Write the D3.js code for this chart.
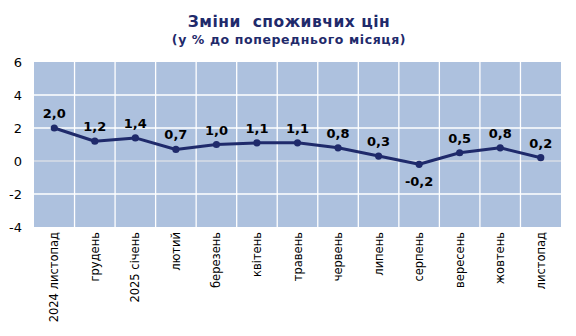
<!DOCTYPE html>
<html>
<head>
<meta charset="utf-8">
<script src="https://cdn.jsdelivr.net/npm/d3@7"></script>
<style>
  html, body { margin: 0; padding: 0; background: #fff; }
  svg { display: block; }
</style>
</head>
<body>
<svg id="chart" width="576" height="336"></svg>
<script>
// Monthly consumer price changes, % vs previous month
const months = ["2024 листопад", "грудень", "2025 січень", "лютий", "березень", "квітень",
  "травень", "червень", "липень", "серпень", "вересень", "жовтень", "листопад"];
const values = [2.0, 1.2, 1.4, 0.7, 1.0, 1.1, 1.1, 0.8, 0.3, -0.2, 0.5, 0.8, 0.2];
const yTicks = [-4, -2, 0, 2, 4, 6];

const svg = d3.select("#chart");
const plot = { left: 34, right: 561, top: 62, bottom: 227 };
const navy = "#1f2a6b";
const font = "'DejaVu Sans', Verdana, sans-serif";

const x = d3.scaleBand().domain(months).range([plot.left, plot.right]).padding(0);
const y = d3.scaleLinear().domain([-4, 6]).range([plot.bottom, plot.top]);

// Title
svg.append("text").attr("x", 289).attr("y", 27).attr("text-anchor", "middle")
  .style("white-space", "pre")
  .attr("font-family", font).attr("font-weight", "bold").attr("font-size", 15.5)
  .attr("fill", navy).attr("letter-spacing", 0.5).text("Зміни  споживчих цін");
svg.append("text").attr("x", 289).attr("y", 44).attr("text-anchor", "middle")
  .attr("font-family", font).attr("font-weight", "bold").attr("font-size", 12.5)
  .attr("fill", navy).attr("letter-spacing", 0.6).text("(у % до попереднього місяця)");

// Plot background
svg.append("rect").attr("x", plot.left).attr("y", plot.top)
  .attr("width", plot.right - plot.left).attr("height", plot.bottom - plot.top)
  .attr("fill", "#adc1de");

// Horizontal grid
svg.append("g").selectAll("line").data(yTicks.filter(t => t > -4 && t < 6)).join("line")
  .attr("x1", plot.left).attr("x2", plot.right)
  .attr("y1", d => y(d)).attr("y2", d => y(d))
  .attr("stroke", d => d === 0 ? "#d9dde6" : "#ffffff").attr("stroke-width", 1.3);

// Vertical grid at category boundaries
svg.append("g").selectAll("line").data(months.slice(1)).join("line")
  .attr("x1", d => x(d)).attr("x2", d => x(d))
  .attr("y1", plot.top).attr("y2", plot.bottom)
  .attr("stroke", "#ffffff").attr("stroke-width", 1.3);

// Y axis labels (plain hyphen for negatives)
const yAxis = d3.axisLeft(y).tickValues(yTicks).tickSize(0).tickPadding(12)
  .tickFormat(d => String(d));
const gy = svg.append("g").attr("transform", `translate(${plot.left},0)`).call(yAxis);
gy.select(".domain").remove();
gy.selectAll("text").attr("font-family", font).attr("font-size", 13).attr("fill", "#000");

// X axis labels (rotated)
const xAxis = d3.axisBottom(x).tickSize(0).tickPadding(0);
const gx = svg.append("g").attr("transform", `translate(0,${plot.bottom})`).call(xAxis);
gx.select(".domain").remove();
gx.selectAll("text")
  .attr("font-family", font).attr("font-size", 11.5).attr("fill", "#000")
  .attr("transform", "rotate(-90)")
  .attr("text-anchor", "end").attr("dx", "-5").attr("dy", "0.35em")
  .attr("x", 0).attr("y", 0);

// Line and points
const cx = d => x(d) + x.bandwidth() / 2;
const line = d3.line().x((d, i) => cx(months[i])).y(d => y(d));
svg.append("path").datum(values).attr("d", line)
  .attr("fill", "none").attr("stroke", navy).attr("stroke-width", 3)
  .attr("stroke-linejoin", "round");
svg.append("g").selectAll("circle").data(values).join("circle")
  .attr("cx", (d, i) => cx(months[i])).attr("cy", d => y(d)).attr("r", 3.6)
  .attr("fill", navy);

// Value labels
const fmt = v => v.toFixed(1).replace(".", ",");
svg.append("g").selectAll("text").data(values).join("text")
  .attr("x", (d, i) => cx(months[i]))
  .attr("y", d => d < 0 ? y(d) + 22 : y(d) - 10)
  .attr("text-anchor", "middle")
  .attr("font-family", font).attr("font-weight", "bold").attr("font-size", 13)
  .attr("fill", "#000").text(fmt);
</script>
</body>
</html>
